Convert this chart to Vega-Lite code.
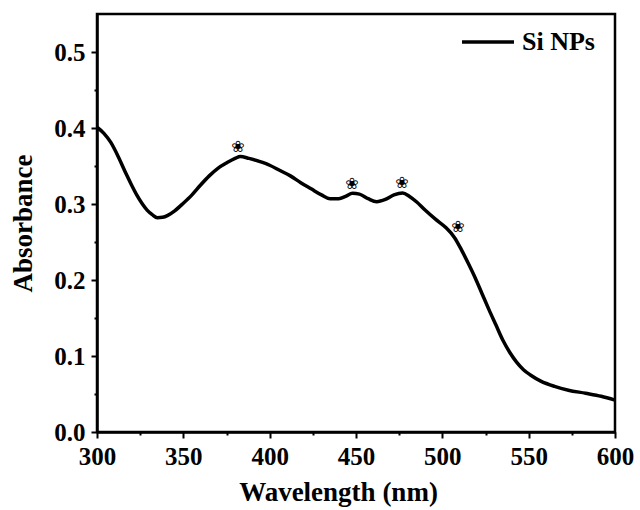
{
  "$schema": "https://vega.github.io/schema/vega-lite/v6.json",
  "width": 518,
  "height": 418,
  "autosize": {"type": "none"},
  "padding": {"left": 97, "top": 14, "right": 25, "bottom": 78},
  "background": "white",
  "config": {
    "view": {"stroke": "black", "strokeWidth": 2.5},
    "font": "Liberation Serif"
  },
  "datasets": {
    "curve": [
      {"wl": 300, "abs": 0.401, "series": "Si NPs"},
      {"wl": 304, "abs": 0.393, "series": "Si NPs"},
      {"wl": 308, "abs": 0.381, "series": "Si NPs"},
      {"wl": 313, "abs": 0.359, "series": "Si NPs"},
      {"wl": 317, "abs": 0.339, "series": "Si NPs"},
      {"wl": 320, "abs": 0.325, "series": "Si NPs"},
      {"wl": 323, "abs": 0.312, "series": "Si NPs"},
      {"wl": 326, "abs": 0.301, "series": "Si NPs"},
      {"wl": 329, "abs": 0.292, "series": "Si NPs"},
      {"wl": 332, "abs": 0.286, "series": "Si NPs"},
      {"wl": 335, "abs": 0.282, "series": "Si NPs"},
      {"wl": 338, "abs": 0.2825, "series": "Si NPs"},
      {"wl": 341, "abs": 0.285, "series": "Si NPs"},
      {"wl": 345, "abs": 0.291, "series": "Si NPs"},
      {"wl": 350, "abs": 0.301, "series": "Si NPs"},
      {"wl": 355, "abs": 0.312, "series": "Si NPs"},
      {"wl": 360, "abs": 0.325, "series": "Si NPs"},
      {"wl": 365, "abs": 0.337, "series": "Si NPs"},
      {"wl": 370, "abs": 0.347, "series": "Si NPs"},
      {"wl": 375, "abs": 0.354, "series": "Si NPs"},
      {"wl": 380, "abs": 0.360, "series": "Si NPs"},
      {"wl": 383, "abs": 0.3625, "series": "Si NPs"},
      {"wl": 388, "abs": 0.360, "series": "Si NPs"},
      {"wl": 394, "abs": 0.356, "series": "Si NPs"},
      {"wl": 400, "abs": 0.351, "series": "Si NPs"},
      {"wl": 406, "abs": 0.344, "series": "Si NPs"},
      {"wl": 412, "abs": 0.337, "series": "Si NPs"},
      {"wl": 418, "abs": 0.328, "series": "Si NPs"},
      {"wl": 424, "abs": 0.320, "series": "Si NPs"},
      {"wl": 430, "abs": 0.312, "series": "Si NPs"},
      {"wl": 435, "abs": 0.307, "series": "Si NPs"},
      {"wl": 440, "abs": 0.307, "series": "Si NPs"},
      {"wl": 444, "abs": 0.310, "series": "Si NPs"},
      {"wl": 448, "abs": 0.314, "series": "Si NPs"},
      {"wl": 452, "abs": 0.313, "series": "Si NPs"},
      {"wl": 457, "abs": 0.307, "series": "Si NPs"},
      {"wl": 462, "abs": 0.303, "series": "Si NPs"},
      {"wl": 467, "abs": 0.306, "series": "Si NPs"},
      {"wl": 472, "abs": 0.312, "series": "Si NPs"},
      {"wl": 477, "abs": 0.3145, "series": "Si NPs"},
      {"wl": 481, "abs": 0.310, "series": "Si NPs"},
      {"wl": 485, "abs": 0.303, "series": "Si NPs"},
      {"wl": 490, "abs": 0.292, "series": "Si NPs"},
      {"wl": 496, "abs": 0.280, "series": "Si NPs"},
      {"wl": 502, "abs": 0.269, "series": "Si NPs"},
      {"wl": 507, "abs": 0.256, "series": "Si NPs"},
      {"wl": 511, "abs": 0.240, "series": "Si NPs"},
      {"wl": 515, "abs": 0.222, "series": "Si NPs"},
      {"wl": 519, "abs": 0.203, "series": "Si NPs"},
      {"wl": 523, "abs": 0.182, "series": "Si NPs"},
      {"wl": 527, "abs": 0.161, "series": "Si NPs"},
      {"wl": 531, "abs": 0.141, "series": "Si NPs"},
      {"wl": 535, "abs": 0.121, "series": "Si NPs"},
      {"wl": 539, "abs": 0.105, "series": "Si NPs"},
      {"wl": 543, "abs": 0.092, "series": "Si NPs"},
      {"wl": 547, "abs": 0.082, "series": "Si NPs"},
      {"wl": 551, "abs": 0.075, "series": "Si NPs"},
      {"wl": 557, "abs": 0.067, "series": "Si NPs"},
      {"wl": 565, "abs": 0.060, "series": "Si NPs"},
      {"wl": 573, "abs": 0.055, "series": "Si NPs"},
      {"wl": 583, "abs": 0.051, "series": "Si NPs"},
      {"wl": 592, "abs": 0.047, "series": "Si NPs"},
      {"wl": 600, "abs": 0.042, "series": "Si NPs"}
    ],
    "flowers": [
      {"wl": 381.7, "abs": 0.375, "sym": "❀"},
      {"wl": 447.7, "abs": 0.326, "sym": "❀"},
      {"wl": 476.6, "abs": 0.328, "sym": "❀"},
      {"wl": 509.0, "abs": 0.270, "sym": "❀"}
    ]
  },
  "encoding": {
    "x": {
      "field": "wl",
      "type": "quantitative",
      "scale": {"domain": [300, 600], "nice": false, "zero": false},
      "axis": {
        "title": "Wavelength (nm)",
        "values": [300, 325, 350, 375, 400, 425, 450, 475, 500, 525, 550, 575, 600],
        "labelExpr": "datum.value % 50 === 0 ? format(datum.value, 'd') : ''",
        "tickSize": {"condition": {"test": "datum.value % 50 === 0", "value": 6}, "value": 3},
        "tickWidth": 2,
        "tickColor": "black",
        "domainColor": "black",
        "domainWidth": 2.5,
        "grid": false,
        "labelFont": "Liberation Serif",
        "labelFontSize": 25,
        "labelFontWeight": "bold",
        "labelColor": "black",
        "labelPadding": 6,
        "labelFlush": false,
        "labelOverlap": false,
        "titleFont": "Liberation Serif",
        "titleFontSize": 27,
        "titleFontWeight": "bold",
        "titleColor": "black",
        "titlePadding": 10,
        "titleX": 241,
        "titleAlign": "center"
      }
    },
    "y": {
      "field": "abs",
      "type": "quantitative",
      "scale": {"domain": [0, 0.55], "nice": false},
      "axis": {
        "title": "Absorbance",
        "values": [0, 0.05, 0.1, 0.15, 0.2, 0.25, 0.3, 0.35, 0.4, 0.45, 0.5],
        "labelExpr": "abs(round(datum.value * 10) - datum.value * 10) < 0.01 ? format(datum.value, '.1f') : ''",
        "tickSize": {"condition": {"test": "abs(round(datum.value * 10) - datum.value * 10) < 0.01", "value": 6}, "value": 3},
        "tickWidth": 2,
        "tickColor": "black",
        "domainColor": "black",
        "domainWidth": 2.5,
        "grid": false,
        "labelFont": "Liberation Serif",
        "labelFontSize": 25,
        "labelFontWeight": "bold",
        "labelColor": "black",
        "labelPadding": 6,
        "labelFlush": false,
        "labelOverlap": false,
        "titleFont": "Liberation Serif",
        "titleFontSize": 27,
        "titleFontWeight": "bold",
        "titleColor": "black",
        "titlePadding": 16
      }
    }
  },
  "layer": [
    {
      "data": {"name": "curve"},
      "mark": {"type": "line", "strokeWidth": 3.5, "interpolate": "monotone"},
      "encoding": {
        "color": {
          "field": "series",
          "type": "nominal",
          "scale": {"range": ["black"]},
          "legend": {
            "title": null,
            "orient": "none",
            "legendX": 363,
            "legendY": 0,
            "symbolType": "stroke",
            "symbolSize": 2700,
            "symbolStrokeWidth": 3.5,
            "labelFont": "Liberation Serif",
            "labelFontSize": 26,
            "labelFontWeight": "bold",
            "labelColor": "black",
            "labelOffset": 6
          }
        }
      }
    },
    {
      "data": {"name": "flowers"},
      "mark": {"type": "text", "font": "DejaVu Sans", "fontSize": 16, "color": "black", "baseline": "middle", "align": "center"},
      "encoding": {
        "text": {"field": "sym"}
      }
    }
  ]
}
